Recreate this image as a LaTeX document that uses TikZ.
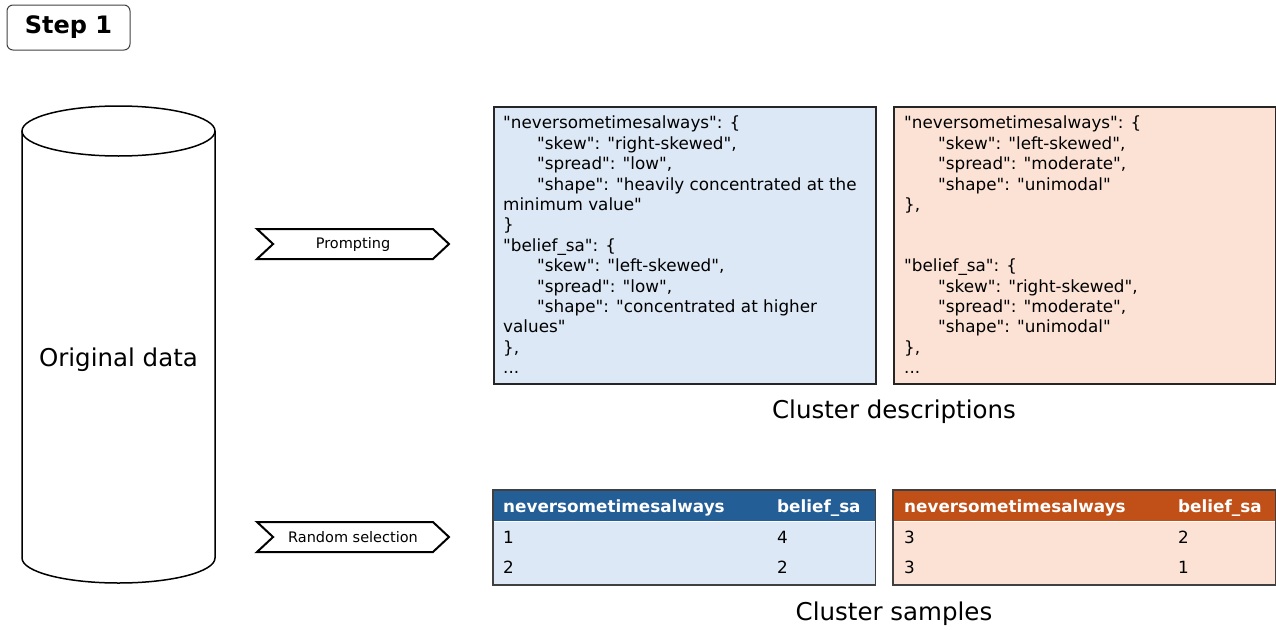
\documentclass[tikz,border=0pt]{standalone}
\usepackage{fontspec}
\setmainfont{DejaVu Sans}[Ligatures=TeXOff]
\usetikzlibrary{shapes.symbols, positioning}
\definecolor{lightblue}{RGB}{220,232,245}
\definecolor{darkblue}{RGB}{36,94,150}
\definecolor{lightorange}{RGB}{252,226,213}
\definecolor{darkorange}{RGB}{193,80,24}
\newcommand{\ind}{\hspace*{34pt}}
\tikzset{
  stepbox/.style={draw=black!75, line width=1pt, rounded corners=6pt, minimum width=123pt, minimum height=45pt,
    font=\fontsize{24}{28}\selectfont\bfseries},
  chevron/.style={signal, signal to=east, signal from=west, draw, line width=2pt, fill=white,
    minimum width=192pt, minimum height=30pt, signal pointer angle=86, inner sep=0pt,
    font=\fontsize{14.5}{16}\selectfont},
  descbox/.style={draw=black!85, line width=1.5pt, anchor=north west, minimum width=382pt, minimum height=277pt},
  desctext/.style={anchor=north west, inner sep=0pt, align=left, font=\fontsize{16.8}{20.4}\selectfont},
  tablehead/.style={anchor=north west, minimum width=382pt, minimum height=31pt, inner sep=0pt},
  tablebody/.style={anchor=north west, minimum width=382pt, minimum height=63pt, inner sep=0pt},
  cell/.style={anchor=base west, inner sep=0pt, font=\fontsize{16.8}{20.4}\selectfont},
  headcell/.style={cell, text=white, font=\fontsize{16.8}{20.4}\selectfont\bfseries},
  caption/.style={font=\fontsize{24.5}{28}\selectfont}
}
\begin{document}
\begin{tikzpicture}[x=1pt, y=-1pt]
  \useasboundingbox (0,0) rectangle (1276,629);
  \node[stepbox] (step) at (68.5,27.5) {Step 1};

  % data store
  \draw[line width=1.5pt] (22,131) -- (22,558) arc[start angle=180, end angle=0, x radius=96.5, y radius=25]
    -- (215,131);
  \draw[line width=1.5pt] (118.5,131) ellipse[x radius=96.5, y radius=25];
  \node[caption] (orig) at (118.5,360) {Original data};

  \node[chevron] (prompt) at (353,244) {Prompting};
  \node[chevron] (select) at (353,537) {Random selection};

  % cluster descriptions
  \node[descbox, fill=lightblue] (descA) at (493,106) {};
  \node[desctext] (textA) at (503,116) {"neversometimesalways": \{\\
    \ind"skew": "right-skewed",\\
    \ind"spread": "low",\\
    \ind"shape": "heavily concentrated at the\\
    minimum value"\\
    \}\\
    "belief\_sa": \{\\
    \ind"skew": "left-skewed",\\
    \ind"spread": "low",\\
    \ind"shape": "concentrated at higher\\
    values"\\
    \},\\
    ...};
  \node[descbox, fill=lightorange] (descB) at (893,106) {};
  \node[desctext] (textB) at (904,116) {"neversometimesalways": \{\\
    \ind"skew": "left-skewed",\\
    \ind"spread": "moderate",\\
    \ind"shape": "unimodal"\\
    \},\\[40.8pt]
    "belief\_sa": \{\\
    \ind"skew": "right-skewed",\\
    \ind"spread": "moderate",\\
    \ind"shape": "unimodal"\\
    \},\\
    ...};
  \node[caption] (desccap) at (894,412) {Cluster descriptions};

  % cluster samples
  \node[tablehead, fill=darkblue] (headA) at (493,490) {};
  \node[tablebody, fill=lightblue, below=0pt of headA] (bodyA) {};
  \draw[draw=black!75, line width=1.5pt] (headA.north west) rectangle (bodyA.south east);
  \node[headcell] at (503,512) {neversometimesalways};
  \node[headcell] at (777,512) {belief\_sa};
  \node[cell] at (503,543) {1};
  \node[cell] at (777,543) {4};
  \node[cell] at (503,573) {2};
  \node[cell] at (777,573) {2};

  \node[tablehead, fill=darkorange] (headB) at (893,490) {};
  \node[tablebody, fill=lightorange, below=0pt of headB] (bodyB) {};
  \draw[draw=black!75, line width=1.5pt] (headB.north west) rectangle (bodyB.south east);
  \node[headcell] at (904,512) {neversometimesalways};
  \node[headcell] at (1178,512) {belief\_sa};
  \node[cell] at (904,543) {3};
  \node[cell] at (1178,543) {2};
  \node[cell] at (904,573) {3};
  \node[cell] at (1178,573) {1};
  \node[caption] (sampcap) at (894,614) {Cluster samples};
\end{tikzpicture}
\end{document}
